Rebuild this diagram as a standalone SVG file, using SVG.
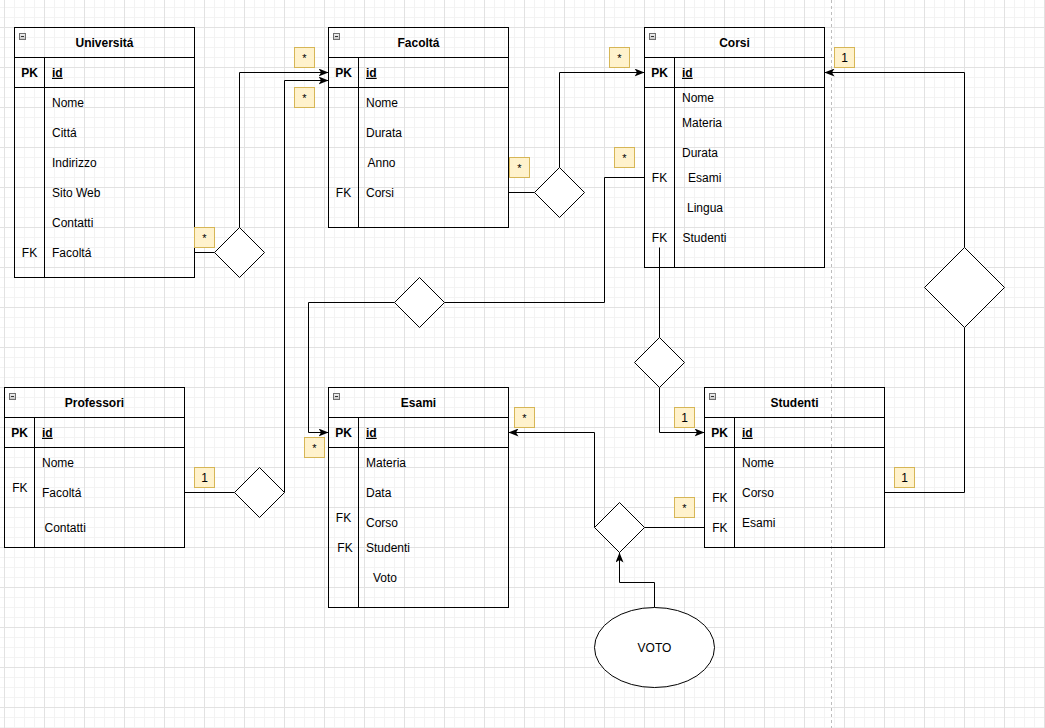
<svg xmlns="http://www.w3.org/2000/svg" width="1045" height="728" viewBox="0 0 1045 728">
<style>
.t{font-family:"Liberation Sans",Arial,sans-serif;font-size:12px;fill:#000}
.b{font-weight:bold}
.m{text-anchor:middle}
.u{text-decoration:underline}
.tb{fill:none;stroke:#000;stroke-width:1}
.sh{fill:#fff;stroke:#000;stroke-width:1}
.lb{fill:#fff2cc;stroke:#d6b656;stroke-width:1}
.e{fill:none;stroke:#000;stroke-width:1}
.ic{fill:url(#ig);stroke:#6e6e6e;stroke-width:1}
.icl{stroke:#333;stroke-width:1}
</style>
<defs>
<pattern id="grid" patternUnits="userSpaceOnUse" x="4" y="27" width="40" height="40">
<rect x="0" y="0" width="40" height="40" fill="#fff"/>
<rect x="10" y="0" width="1" height="40" fill="#f3f3f3"/>
<rect x="20" y="0" width="1" height="40" fill="#f3f3f3"/>
<rect x="30" y="0" width="1" height="40" fill="#f3f3f3"/>
<rect x="0" y="10" width="40" height="1" fill="#f3f3f3"/>
<rect x="0" y="20" width="40" height="1" fill="#f3f3f3"/>
<rect x="0" y="30" width="40" height="1" fill="#f3f3f3"/>
<rect x="0" y="0" width="1" height="40" fill="#e2e2e2"/>
<rect x="0" y="0" width="40" height="1" fill="#e2e2e2"/>
</pattern>
<linearGradient id="ig" x1="0" y1="0" x2="0" y2="1">
<stop offset="0" stop-color="#f2f2f2"/>
<stop offset="1" stop-color="#c4c4c4"/>
</linearGradient>
<marker id="arr" markerUnits="userSpaceOnUse" viewBox="0 0 10 8" refX="10" refY="4" markerWidth="10" markerHeight="8" orient="auto">
<path d="M0,0 L10,4 L0,8 L2.5,4 Z" fill="#000"/>
</marker>
</defs>

<rect x="0" y="0" width="1045" height="728" fill="url(#grid)"/>
<line x1="831.5" y1="0" x2="831.5" y2="728" stroke="#bdbdbd" stroke-dasharray="3 3"/>

<g id="connectors">
<path class="e" d="M194.5,252.5 H214.5"/>
<path class="e" d="M239.5,227.5 V72.5 H328.5" marker-end="url(#arr)"/>
<path class="e" d="M184.5,492.5 H234.5"/>
<path class="e" d="M284.5,492.5 V80.5 H328.5" marker-end="url(#arr)"/>
<path class="e" d="M508.5,192.5 H534.5"/>
<path class="e" d="M559.5,167.5 V72.5 H644.5" marker-end="url(#arr)"/>
<path class="e" d="M644.5,177.5 H604.5 V302.5 H444.5"/>
<path class="e" d="M394.5,302.5 H308.5 V432.5 H328.5" marker-end="url(#arr)"/>
<path class="e" d="M659.5,247.5 V337.5"/>
<path class="e" d="M659.5,387.5 V432.5 H704.5" marker-end="url(#arr)"/>
<path class="e" d="M884.5,492.5 H964.5 V327.5"/>
<path class="e" d="M964.5,247.5 V72.5 H824.5" marker-end="url(#arr)"/>
<path class="e" d="M704.5,527.5 H644.5"/>
<path class="e" d="M594.5,527.5 V432.5 H508.5" marker-end="url(#arr)"/>
<path class="e" d="M654.5,607.5 V582.5 H619.5 V552.5" marker-end="url(#arr)"/>
</g>

<g id="universita">
<rect class="tb" x="14.5" y="27.5" width="180" height="250"/>
<path class="tb" d="M14.5,57.5 H194.5 M14.5,87.5 H194.5 M44.5,57.5 V277.5"/>
<rect class="ic" x="19.5" y="33.5" width="6" height="6"/><path class="icl" d="M21,36.5 H24"/>
<text class="t b m" x="104.5" y="46.8">Universitá</text>
<text class="t b m" x="29.5" y="76.8">PK</text>
<text class="t b u" x="52" y="76.8">id</text>
<text class="t" x="52" y="106.8">Nome</text>
<text class="t" x="52" y="136.8">Cittá</text>
<text class="t" x="52" y="166.8">Indirizzo</text>
<text class="t" x="52" y="196.8">Sito Web</text>
<text class="t" x="52" y="226.8">Contatti</text>
<text class="t m" x="29.5" y="256.8">FK</text>
<text class="t" x="52" y="256.8">Facoltá</text>
</g>

<g id="facolta">
<rect class="tb" x="328.5" y="27.5" width="180" height="200"/>
<path class="tb" d="M328.5,57.5 H508.5 M328.5,87.5 H508.5 M358.5,57.5 V227.5"/>
<rect class="ic" x="333.5" y="33.5" width="6" height="6"/><path class="icl" d="M335,36.5 H338"/>
<text class="t b m" x="418.5" y="46.8">Facoltá</text>
<text class="t b m" x="343.5" y="76.8">PK</text>
<text class="t b u" x="366" y="76.8">id</text>
<text class="t" x="366" y="106.8">Nome</text>
<text class="t" x="366" y="136.8">Durata</text>
<text class="t" x="367.5" y="166.8">Anno</text>
<text class="t m" x="343.5" y="196.8">FK</text>
<text class="t" x="366" y="196.8">Corsi</text>
</g>

<g id="corsi">
<rect class="tb" x="644.5" y="27.5" width="180" height="240"/>
<path class="tb" d="M644.5,57.5 H824.5 M644.5,87.5 H824.5 M674.5,57.5 V267.5"/>
<rect class="ic" x="649.5" y="33.5" width="6" height="6"/><path class="icl" d="M651,36.5 H654"/>
<text class="t b m" x="734.5" y="46.8">Corsi</text>
<text class="t b m" x="659.5" y="76.8">PK</text>
<text class="t b u" x="682" y="76.8">id</text>
<text class="t" x="682" y="102.2">Nome</text>
<text class="t" x="682" y="126.8">Materia</text>
<text class="t" x="682" y="156.8">Durata</text>
<text class="t m" x="659.5" y="181.8">FK</text>
<text class="t" x="688" y="181.8">Esami</text>
<text class="t" x="687" y="211.8">Lingua</text>
<text class="t m" x="659.5" y="241.8">FK</text>
<text class="t" x="682.5" y="241.8">Studenti</text>
</g>

<g id="professori">
<rect class="tb" x="4.5" y="387.5" width="180" height="160"/>
<path class="tb" d="M4.5,417.5 H184.5 M4.5,447.5 H184.5 M34.5,417.5 V547.5"/>
<rect class="ic" x="9.5" y="393.5" width="6" height="6"/><path class="icl" d="M11,396.5 H14"/>
<text class="t b m" x="94.5" y="406.8">Professori</text>
<text class="t b m" x="19.5" y="436.8">PK</text>
<text class="t b u" x="42" y="436.8">id</text>
<text class="t" x="42" y="466.8">Nome</text>
<text class="t m" x="19.8" y="491.8">FK</text>
<text class="t" x="42" y="496.8">Facoltá</text>
<text class="t" x="44.5" y="531.8">Contatti</text>
</g>

<g id="esami">
<rect class="tb" x="328.5" y="387.5" width="180" height="220"/>
<path class="tb" d="M328.5,417.5 H508.5 M328.5,447.5 H508.5 M358.5,417.5 V607.5"/>
<rect class="ic" x="333.5" y="393.5" width="6" height="6"/><path class="icl" d="M335,396.5 H338"/>
<text class="t b m" x="418.5" y="406.8">Esami</text>
<text class="t b m" x="343.5" y="436.8">PK</text>
<text class="t b u" x="366" y="436.8">id</text>
<text class="t" x="366" y="466.8">Materia</text>
<text class="t" x="366" y="496.8">Data</text>
<text class="t m" x="343.5" y="521.8">FK</text>
<text class="t" x="366" y="526.8">Corso</text>
<text class="t m" x="345" y="551.8">FK</text>
<text class="t" x="366" y="551.8">Studenti</text>
<text class="t" x="373" y="581.8">Voto</text>
</g>

<g id="studenti">
<rect class="tb" x="704.5" y="387.5" width="180" height="160"/>
<path class="tb" d="M704.5,417.5 H884.5 M704.5,447.5 H884.5 M734.5,417.5 V547.5"/>
<rect class="ic" x="709.5" y="393.5" width="6" height="6"/><path class="icl" d="M711,396.5 H714"/>
<text class="t b m" x="794.5" y="406.8">Studenti</text>
<text class="t b m" x="719.5" y="436.8">PK</text>
<text class="t b u" x="742" y="436.8">id</text>
<text class="t" x="742" y="466.8">Nome</text>
<text class="t m" x="719.8" y="501.8">FK</text>
<text class="t" x="742" y="496.8">Corso</text>
<text class="t m" x="719.8" y="531.8">FK</text>
<text class="t" x="742" y="526.8">Esami</text>
</g>

<g id="rel-universita-facolta"><path class="sh" d="M239.5,227.5 L264.5,252.5 L239.5,277.5 L214.5,252.5 Z"/></g>
<g id="rel-professori-facolta"><path class="sh" d="M259.5,467.5 L284.5,492.5 L259.5,517.5 L234.5,492.5 Z"/></g>
<g id="rel-facolta-corsi"><path class="sh" d="M559.5,167.5 L584.5,192.5 L559.5,217.5 L534.5,192.5 Z"/></g>
<g id="rel-corsi-esami"><path class="sh" d="M419.5,277.5 L444.5,302.5 L419.5,327.5 L394.5,302.5 Z"/></g>
<g id="rel-corsi-studenti"><path class="sh" d="M659.5,337.5 L684.5,362.5 L659.5,387.5 L634.5,362.5 Z"/></g>
<g id="rel-studenti-corsi"><path class="sh" d="M964.5,247.5 L1004.5,287.5 L964.5,327.5 L924.5,287.5 Z"/></g>
<g id="rel-studenti-esami"><path class="sh" d="M619.5,502.5 L644.5,527.5 L619.5,552.5 L594.5,527.5 Z"/></g>
<g id="voto">
<ellipse class="sh" cx="654.5" cy="647.5" rx="60" ry="40"/>
<text class="t m" x="654.5" y="651.8">VOTO</text>
</g>

<g id="labels">
<rect class="lb" x="194.5" y="227.5" width="20" height="20"/><text class="t m" style="font-size:11px" x="204.5" y="241.5">*</text>
<rect class="lb" x="294.5" y="47.5" width="20" height="20"/><text class="t m" style="font-size:11px" x="304.5" y="61.5">*</text>
<rect class="lb" x="294.5" y="87.5" width="20" height="20"/><text class="t m" style="font-size:11px" x="304.5" y="101.5">*</text>
<rect class="lb" x="194.5" y="467.5" width="20" height="20"/><text class="t m" x="204.5" y="482">1</text>
<rect class="lb" x="509.5" y="157.5" width="20" height="20"/><text class="t m" style="font-size:11px" x="519.5" y="171.5">*</text>
<rect class="lb" x="609.5" y="47.5" width="20" height="20"/><text class="t m" style="font-size:11px" x="619.5" y="61.5">*</text>
<rect class="lb" x="614.5" y="147.5" width="20" height="20"/><text class="t m" style="font-size:11px" x="624.5" y="161.5">*</text>
<rect class="lb" x="304.5" y="437.5" width="20" height="20"/><text class="t m" style="font-size:11px" x="314.5" y="451.5">*</text>
<rect class="lb" x="674.5" y="407.5" width="20" height="20"/><text class="t m" x="684.5" y="422">1</text>
<rect class="lb" x="834.5" y="47.5" width="20" height="20"/><text class="t m" x="844.5" y="62">1</text>
<rect class="lb" x="894.5" y="467.5" width="20" height="20"/><text class="t m" x="904.5" y="482">1</text>
<rect class="lb" x="674.5" y="497.5" width="20" height="20"/><text class="t m" style="font-size:11px" x="684.5" y="511.5">*</text>
<rect class="lb" x="514.5" y="407.5" width="20" height="20"/><text class="t m" style="font-size:11px" x="524.5" y="421.5">*</text>
</g>
</svg>
